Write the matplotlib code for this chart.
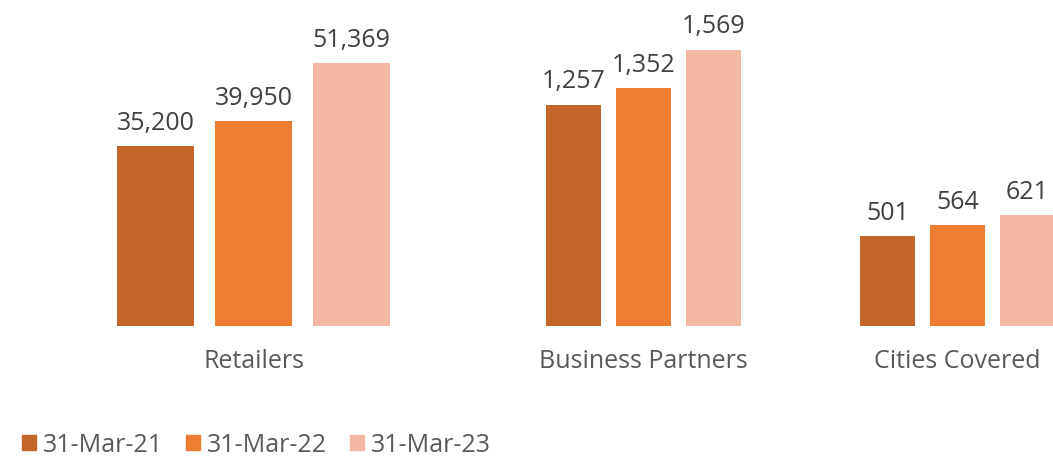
import matplotlib
matplotlib.use("Agg")
import matplotlib.pyplot as plt
from matplotlib.patches import Patch

plt.rcParams['font.family'] = ['Open Sans', 'DejaVu Sans']

# data
periods = ['31-Mar-21', '31-Mar-22', '31-Mar-23']
colors = ['#C4652A', '#ED7D31', '#F4B8A5']
categories = ['Retailers', 'Business Partners', 'Cities Covered']
retailers = [35200, 39950, 51369]
partners = [1257, 1352, 1569]
cities = [501, 564, 621]
series = [retailers, partners, cities]

W, H = 1053, 460
fig = plt.figure(figsize=(W / 100, H / 100), dpi=100)

# layout per group (pixels): first bar centre, bar spacing, px per unit
layout = [(155.5, 98, 0.00512), (573.5, 70, 0.1762), (887.5, 70, 0.179)]
base = 327  # baseline pixel from top

for cat, vals, (c0, step, scale) in zip(categories, series, layout):
    left = c0 - 0.6 * step
    width = 3.2 * step
    ax = fig.add_axes([left / W, (H - base) / H, width / W, base / H])
    x = range(len(vals))
    ax.bar(x, vals, width=0.79, color=colors)
    for xi, v in zip(x, vals):
        ax.annotate(f'{v:,}', (xi, v), xytext=(0, 8), textcoords='offset points',
                    ha='center', va='bottom', fontsize=18, color='#404040')
    ax.set_xlim(-0.6, 2.6)
    ax.set_ylim(0, base / scale)
    ax.set_xticks([1])
    ax.set_xticklabels([cat], fontsize=18, color='#595959')
    ax.tick_params(axis='x', length=0, pad=16)
    ax.set_yticks([])
    for s in ax.spines.values():
        s.set_visible(False)
    ax.patch.set_alpha(0)

handles = [Patch(color=c, label=p) for c, p in zip(colors, periods)]
fig.legend(handles=handles, loc='center left', bbox_to_anchor=(7 / W, 1 - 446 / H),
           ncol=3, frameon=False, fontsize=18, handlelength=0.55, handleheight=0.55,
           handletextpad=0.3, columnspacing=0.9, labelcolor='#595959', borderpad=0.1)

fig.savefig('out.png', dpi=100)
